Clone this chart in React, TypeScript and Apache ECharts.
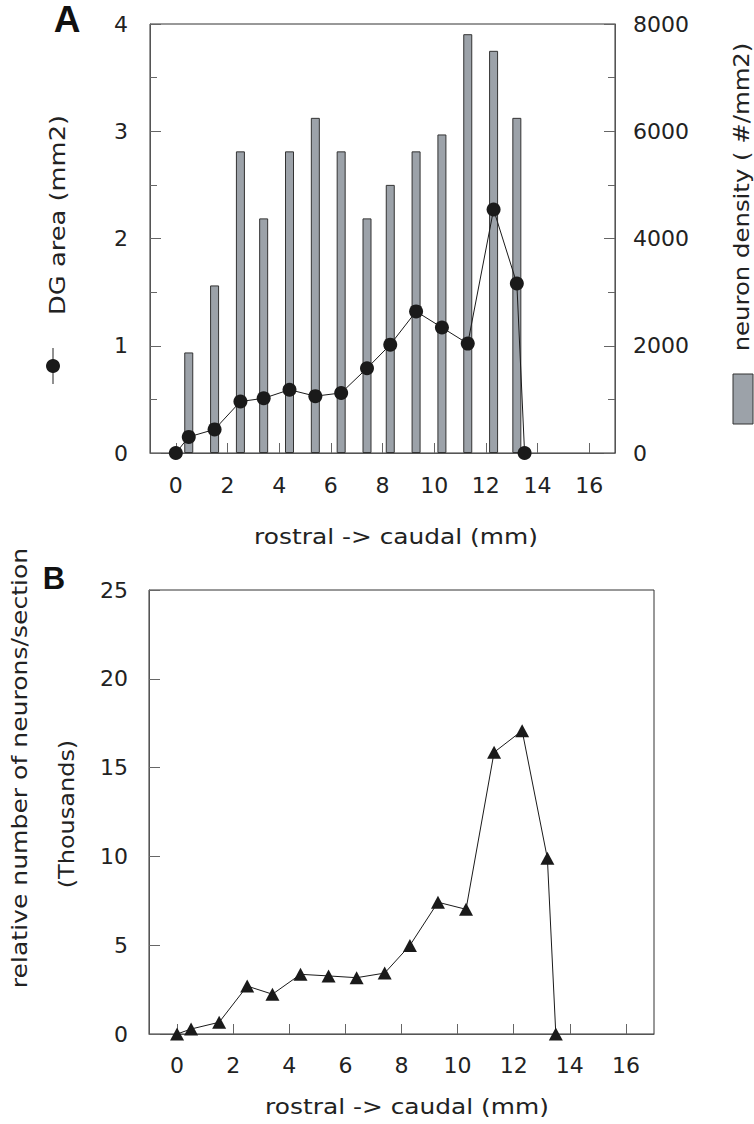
import React, { useEffect, useRef } from "react";
import * as echarts from "echarts";

// ---- data ----
const xTickValues = [0, 2, 4, 6, 8, 10, 12, 14, 16];
const areaX = [0, 0.5, 1.5, 2.5, 3.4, 4.4, 5.4, 6.4, 7.4, 8.3, 9.3, 10.3, 11.3, 12.3, 13.2, 13.5];
const dgArea = [0, 0.15, 0.22, 0.48, 0.51, 0.59, 0.53, 0.56, 0.79, 1.01, 1.32, 1.17, 1.02, 2.27, 1.58, 0];
const densityX = [0.5, 1.5, 2.5, 3.4, 4.4, 5.4, 6.4, 7.4, 8.3, 9.3, 10.3, 11.3, 12.3, 13.2];
const density = [1875, 3125, 5625, 4375, 5625, 6250, 5625, 4375, 5000, 5625, 5940, 7810, 7500, 6250];
const neuronsX = [0, 0.5, 1.5, 2.5, 3.4, 4.4, 5.4, 6.4, 7.4, 8.3, 9.3, 10.3, 11.3, 12.3, 13.2, 13.5];
const neurons = [0, 0.28, 0.66, 2.7, 2.24, 3.36, 3.27, 3.17, 3.43, 4.99, 7.42, 7.02, 15.86, 17.08, 9.89, 0];

const FONT = "DejaVu Sans";
const TXT = "#222";
const AXIS = "#555";
const TICK = "#666";
const BAR = "#9ca2a9";

const labelStyle = { fontFamily: FONT, fontSize: 22, color: TXT };

function xAxisCfg(gridIndex: number, margin: number) {
  return {
    type: "value",
    gridIndex,
    min: -1,
    max: 17,
    splitLine: { show: false },
    axisLine: { show: true, onZero: false, lineStyle: { color: AXIS, width: 1 } },
    axisTick: { show: true, inside: true, length: 10, customValues: xTickValues, lineStyle: { color: TICK } },
    axisLabel: { ...labelStyle, margin, customValues: xTickValues },
  };
}

function vText(text: string, x: number, y: number, size: number, sx: number) {
  return {
    type: "text", x, y, rotation: Math.PI / 2, scaleX: sx, scaleY: 1,
    style: { text, font: `${size}px '${FONT}'`, fill: TXT, align: "center", verticalAlign: "middle" },
  };
}

function hText(text: string, x: number, y: number, size: number, sx: number) {
  return {
    type: "text", x, y, scaleX: sx, scaleY: 1,
    style: { text, font: `${size}px '${FONT}'`, fill: TXT, align: "center", verticalAlign: "middle" },
  };
}

export default function App() {
  const ref = useRef<HTMLDivElement>(null);
  useEffect(() => {
    if (!ref.current) return;
    const chart = echarts.init(ref.current, undefined, { renderer: "svg" });
    const option: any = {
      animation: false,
      backgroundColor: "#fff",
      grid: [
        { left: 150, top: 24, width: 465, height: 429, show: true, borderColor: "#333", borderWidth: 1 },
        { left: 149, top: 590, width: 505, height: 444, show: true, borderColor: "#333", borderWidth: 1 },
      ],
      xAxis: [xAxisCfg(0, 21), xAxisCfg(1, 20)],
      yAxis: [
        {
          type: "value", gridIndex: 0, position: "left", min: 0, max: 4, interval: 1,
          splitLine: { show: false },
          axisLine: { show: true, onZero: false, lineStyle: { color: AXIS } },
          axisTick: { show: true, inside: true, length: 11, lineStyle: { color: TICK } },
          minorTick: { show: true, splitNumber: 2, length: 7, lineStyle: { color: TICK } },
          axisLabel: { ...labelStyle, margin: 22 },
        },
        {
          type: "value", gridIndex: 0, position: "right", min: 0, max: 8000, interval: 2000,
          splitLine: { show: false },
          axisLine: { show: true, onZero: false, lineStyle: { color: AXIS } },
          axisTick: { show: true, inside: true, length: 11, lineStyle: { color: TICK } },
          minorTick: { show: true, splitNumber: 2, length: 7, lineStyle: { color: TICK } },
          axisLabel: { ...labelStyle, margin: 18, formatter: (v: number) => String(v) },
        },
        {
          type: "value", gridIndex: 1, position: "left", min: 0, max: 25, interval: 5,
          splitLine: { show: false },
          axisLine: { show: true, onZero: false, lineStyle: { color: AXIS } },
          axisTick: { show: true, inside: true, length: 11, lineStyle: { color: TICK } },
          axisLabel: { ...labelStyle, margin: 21 },
        },
      ],
      series: [
        {
          type: "bar", name: "neuron density", xAxisIndex: 0, yAxisIndex: 1,
          data: densityX.map((x, i) => [x, density[i]]),
          barWidth: 9,
          itemStyle: { color: BAR, borderColor: "#333", borderWidth: 1 },
        },
        {
          type: "line", name: "DG area", xAxisIndex: 0, yAxisIndex: 0,
          data: areaX.map((x, i) => [x, dgArea[i]]),
          symbol: "circle", symbolSize: 14,
          lineStyle: { color: "#1a1a1a", width: 1 },
          itemStyle: { color: "#1a1a1a" },
          z: 5,
        },
        {
          type: "line", name: "neurons", xAxisIndex: 1, yAxisIndex: 2,
          data: neuronsX.map((x, i) => [x, neurons[i]]),
          symbol: "triangle", symbolSize: [14, 13],
          lineStyle: { color: "#1a1a1a", width: 1 },
          itemStyle: { color: "#1a1a1a" },
        },
      ],
      graphic: [
        { type: "text", x: 67, y: 19, style: { text: "A", font: "bold 37px 'Liberation Sans'", fill: "#111", align: "center", verticalAlign: "middle" } },
        { type: "text", x: 54, y: 578, style: { text: "B", font: "bold 31px 'Liberation Sans'", fill: "#111", align: "center", verticalAlign: "middle" } },
        vText("DG area (mm2)", 58, 215, 22, 1.17),
        { type: "line", shape: { x1: 53, y1: 348, x2: 53, y2: 384 }, style: { stroke: "#222", lineWidth: 1 } },
        { type: "circle", shape: { cx: 53, cy: 366, r: 7 }, style: { fill: "#1a1a1a" } },
        vText("neuron density ( #/mm2)", 742, 197, 21, 1.16),
        { type: "rect", shape: { x: 733, y: 374, width: 20, height: 50 }, style: { fill: BAR, stroke: "#333", lineWidth: 1 } },
        hText("rostral -> caudal (mm)", 396, 537, 22, 1.13),
        hText("rostral -> caudal (mm)", 407, 1107, 22, 1.13),
        vText("relative number of neurons/section", 20, 768, 22, 1.14),
        vText("(Thousands)", 66, 814, 22, 1.09),
      ],
    };
    chart.setOption(option);
    return () => chart.dispose();
  }, []);
  return (
    <div
      ref={ref}
      style={{ position: "absolute", left: 0, top: 0, width: 754, height: 1124 }}
    />
  );
}
